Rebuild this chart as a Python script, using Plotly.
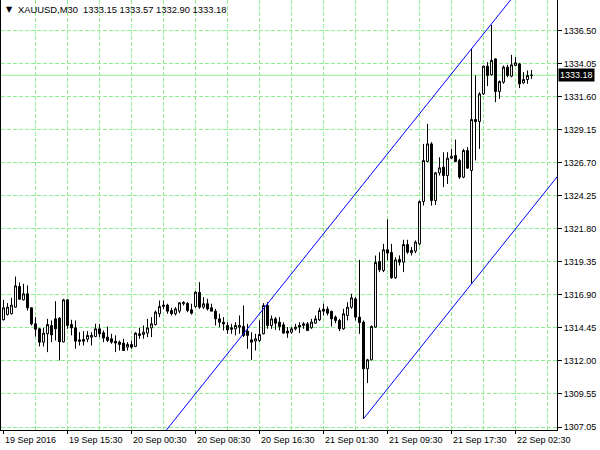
import plotly.graph_objects as go

opens = [1315.02,1315.41,1315.47,1315.96,1317.49,1316.50,1316.95,1315.91,1314.72,1314.35,
         1313.36,1313.98,1314.60,1315.09,1315.14,1313.38,1316.50,1314.67,1314.42,1313.53,
         1313.56,1313.58,1313.73,1313.78,1314.35,1314.05,1313.73,1313.61,1313.43,1313.36,
         1313.29,1312.99,1313.19,1313.04,1313.98,1313.93,1314.03,1314.42,1314.67,1315.47,
         1316.01,1316.11,1315.71,1315.47,1315.66,1316.21,1316.23,1315.76,1316.01,1317.05,
         1315.96,1316.21,1315.91,1315.66,1315.09,1314.84,1314.60,1314.42,1314.35,1314.47,
         1314.52,1314.18,1313.53,1313.43,1313.48,1313.98,1316.08,1314.60,1315.09,1314.84,
         1314.65,1314.18,1314.10,1314.35,1314.60,1314.60,1314.72,1314.43,1314.77,1315.02,
         1315.81,1315.81,1315.64,1315.22,1314.97,1314.35,1315.34,1315.96,1316.58,1315.22,
         1314.85,1311.38,1312.05,1314.48,1319.35,1318.68,1320.22,1320.02,1318.14,1319.50,
         1319.30,1320.61,1319.99,1320.12,1320.66,1323.80,1326.77,1328.08,1323.87,1325.93,
         1326.35,1325.73,1327.02,1327.22,1326.85,1325.61,1327.59,1326.10,1329.89,1329.74,
         1331.79,1333.85,1333.21,1334.39,1331.97,1332.66,1333.78,1333.11,1333.90,1334.02,
         1332.61,1332.86,1333.15]
highs = [1316.50,1316.26,1316.65,1318.23,1317.79,1317.69,1317.57,1315.96,1315.22,1314.42,
         1314.42,1315.09,1314.97,1316.40,1315.22,1316.58,1316.55,1315.02,1314.97,1314.10,
         1314.18,1314.18,1314.10,1314.72,1314.72,1314.23,1314.52,1313.98,1313.86,1313.48,
         1313.61,1313.36,1313.48,1314.10,1314.42,1314.60,1315.09,1315.22,1315.71,1316.45,
         1316.45,1316.21,1315.91,1315.96,1316.33,1316.40,1316.33,1316.21,1317.15,1317.81,
         1316.70,1316.58,1316.21,1315.83,1315.47,1315.22,1314.84,1314.72,1314.84,1315.34,
         1316.08,1314.72,1314.10,1313.98,1314.97,1316.26,1316.33,1315.34,1315.22,1315.22,
         1314.84,1314.48,1314.48,1314.72,1314.85,1314.85,1314.85,1315.09,1315.34,1315.91,
         1316.21,1316.01,1315.71,1315.34,1315.09,1315.84,1316.33,1316.95,1316.70,1319.47,
         1314.97,1312.12,1314.60,1319.79,1320.04,1320.66,1322.47,1320.66,1319.67,1319.80,
         1320.96,1320.96,1320.42,1320.91,1323.88,1328.08,1329.57,1328.21,1325.98,1327.09,
         1327.46,1327.46,1327.71,1328.40,1326.97,1327.71,1327.84,1335.14,1333.16,1331.92,
         1333.90,1334.15,1336.92,1334.44,1332.79,1333.90,1333.95,1334.69,1334.52,1334.10,
         1333.41,1333.53,1333.57]
lows = [1314.97,1315.34,1315.41,1315.91,1316.50,1316.45,1315.71,1314.60,1313.78,1313.04,
        1313.04,1312.62,1313.36,1313.48,1312.00,1313.33,1314.35,1313.86,1312.87,1313.11,
        1313.11,1313.36,1313.11,1313.73,1313.73,1313.36,1313.36,1313.24,1312.62,1312.74,
        1312.70,1312.74,1312.87,1312.99,1313.61,1313.61,1313.73,1313.73,1314.60,1315.22,
        1315.83,1315.47,1315.34,1315.34,1315.51,1316.08,1315.59,1315.41,1315.91,1315.83,
        1315.83,1315.71,1315.66,1314.60,1314.47,1314.23,1313.98,1313.98,1313.86,1313.98,
        1313.73,1312.87,1312.05,1312.74,1313.36,1313.93,1314.35,1314.35,1314.27,1314.23,
        1313.98,1313.68,1313.98,1314.23,1314.03,1314.35,1314.18,1314.35,1314.72,1314.92,
        1315.34,1315.34,1314.53,1314.77,1314.18,1314.28,1314.97,1315.84,1314.97,1313.98,
        1307.67,1310.32,1312.00,1314.43,1318.56,1318.56,1319.43,1318.06,1318.06,1319.05,
        1318.56,1319.92,1319.80,1319.97,1320.54,1323.50,1326.72,1323.50,1323.55,1325.73,
        1324.87,1325.11,1326.97,1326.72,1325.48,1325.53,1326.23,1317.69,1326.85,1327.71,
        1331.72,1332.37,1333.16,1331.18,1331.42,1332.54,1333.03,1333.03,1333.90,1332.22,
        1332.54,1332.54,1332.90]
closes = [1315.91,1315.96,1316.11,1317.54,1316.55,1316.95,1315.91,1314.72,1314.32,1313.36,
          1314.03,1314.67,1313.90,1314.35,1313.38,1316.50,1314.60,1314.42,1313.43,1313.43,
          1313.43,1313.86,1313.86,1314.35,1313.98,1313.66,1313.48,1313.36,1313.29,1313.19,
          1312.74,1313.19,1312.99,1314.03,1313.86,1314.10,1314.42,1314.72,1315.59,1316.01,
          1316.11,1315.66,1315.47,1315.83,1316.28,1316.30,1315.71,1315.51,1317.07,1315.96,
          1316.21,1315.83,1315.66,1315.09,1314.84,1314.72,1314.27,1314.32,1314.60,1314.60,
          1313.86,1313.86,1313.36,1313.61,1313.93,1316.08,1314.60,1315.09,1314.77,1314.52,
          1314.03,1314.03,1314.35,1314.48,1314.48,1314.72,1314.23,1314.85,1315.09,1315.71,
          1315.66,1315.51,1315.09,1314.97,1314.35,1315.47,1315.96,1316.65,1315.22,1314.82,
          1311.38,1312.05,1314.53,1319.28,1318.73,1320.22,1319.97,1318.14,1319.47,1319.30,
          1320.61,1320.04,1320.17,1320.79,1323.80,1326.85,1328.08,1323.87,1325.93,1326.30,
          1325.73,1327.02,1327.17,1326.77,1325.61,1327.59,1326.28,1329.89,1329.74,1331.79,
          1333.85,1333.16,1334.27,1331.97,1332.71,1333.78,1333.16,1333.95,1334.10,1332.54,
          1332.86,1333.16,1333.18]
bars = list(range(len(opens)))

x_tick_bars = [0, 16, 32, 48, 64, 80, 96, 112, 128]
x_tick_labels = ["19 Sep 2016", "19 Sep 15:30", "20 Sep 00:30", "20 Sep 08:30",
                 "20 Sep 16:30", "21 Sep 01:30", "21 Sep 09:30", "21 Sep 17:30",
                 "22 Sep 02:30"]
x_grid_bars = list(range(8, 140, 8))
y_tick_values = [1336.50, 1334.05, 1331.60, 1329.15, 1326.70, 1324.25, 1321.80,
                 1319.35, 1316.90, 1314.45, 1312.00, 1309.55, 1307.05]
y_tick_labels = ["%.2f" % v for v in y_tick_values]

# equidistant channel anchors (bar index, price)
channel_bars = [90, 117]
channel_lower = [1307.67, 1317.69]
channel_upper_at_second = 1335.14
last_price = 1333.18
title_text = "XAUUSD,M30  1333.15 1333.57 1332.90 1333.18"

slope = (channel_lower[1] - channel_lower[0]) / (channel_bars[1] - channel_bars[0])
ext_right = 145
ext_left = 30
lower_x = [channel_bars[0], ext_right]
lower_y = [channel_lower[0], channel_lower[1] + slope * (ext_right - channel_bars[1])]
upper_x = [ext_left, ext_right]
upper_y = [channel_upper_at_second + slope * (ext_left - channel_bars[1]),
           channel_upper_at_second + slope * (ext_right - channel_bars[1])]

FONT = "Liberation Sans"
GRID = "#90EE90"

fig = go.Figure()
fig.add_trace(go.Candlestick(
    x=bars, open=opens, high=highs, low=lows, close=closes,
    increasing=dict(fillcolor="white", line=dict(color="black", width=1)),
    decreasing=dict(fillcolor="black", line=dict(color="black", width=1)),
    whiskerwidth=0, showlegend=False, hoverinfo="skip"))
fig.add_trace(go.Scatter(x=upper_x, y=upper_y, mode="lines",
                         line=dict(color="#0000FF", width=1), showlegend=False, hoverinfo="skip"))
fig.add_trace(go.Scatter(x=lower_x, y=lower_y, mode="lines",
                         line=dict(color="#0000FF", width=1), showlegend=False, hoverinfo="skip"))

# time-axis tick marks and labels (MT4 style: label starts at the tick)
for tb, tl in zip(x_tick_bars, x_tick_labels):
    fig.add_shape(type="line", xref="x", x0=tb, x1=tb, yref="paper", ysizemode="pixel",
                  yanchor=0, y0=0, y1=-4, line=dict(color="black", width=1))
    fig.add_annotation(xref="x", x=tb, yref="paper", y=0, xanchor="left", yanchor="top",
                       text=tl, showarrow=False, xshift=-1, yshift=-3,
                       font=dict(family=FONT, size=9, color="black"))

fig.add_shape(type="line", xref="paper", x0=0, x1=1, yref="y", y0=last_price, y1=last_price,
              line=dict(color=GRID, width=1), layer="below")

fig.add_annotation(xref="paper", x=1, yref="y", y=last_price, xanchor="left", yanchor="middle",
                   text="%.2f" % last_price, showarrow=False, bgcolor="black",
                   font=dict(family=FONT, size=9, color="white"), borderpad=1, xshift=1)
fig.add_annotation(xref="paper", x=0, yref="paper", y=1, xanchor="left", yanchor="top",
                   text="\u25BC", showarrow=False, xshift=3, yshift=-3,
                   font=dict(family="DejaVu Sans", size=8, color="black"))
fig.add_annotation(xref="paper", x=0, yref="paper", y=1, xanchor="left", yanchor="top",
                   text=title_text, showarrow=False, xshift=15, yshift=-2,
                   font=dict(family=FONT, size=9.4, color="black"))

fig.update_layout(
    width=600, height=450,
    margin=dict(l=1, r=43, t=0, b=20),
    paper_bgcolor="white", plot_bgcolor="white",
    font=dict(family=FONT, size=9, color="black"),
    showlegend=False,
    xaxis=dict(range=[-0.625, 138.375], tickmode="array", tickvals=x_grid_bars,
               showticklabels=False, ticks="", showline=True, linecolor="black",
               linewidth=1, mirror=True, showgrid=True, gridcolor=GRID, griddash="4px,2px",
               gridwidth=1, zeroline=False, rangeslider=dict(visible=False)),
    yaxis=dict(side="right", range=[1306.837, 1338.764], tickmode="array", tickvals=y_tick_values,
               ticktext=y_tick_labels, ticks="outside", ticklen=4, tickcolor="black",
               showline=True, linecolor="black", linewidth=1, mirror=True,
               showgrid=True, gridcolor=GRID, griddash="4px,2px", gridwidth=1, zeroline=False,
               tickfont=dict(family=FONT, size=9, color="black")),
)

fig.write_html("out.html", config={"displayModeBar": False},
               post_script="document.body.style.margin='0px';document.body.style.overflow='hidden';")
